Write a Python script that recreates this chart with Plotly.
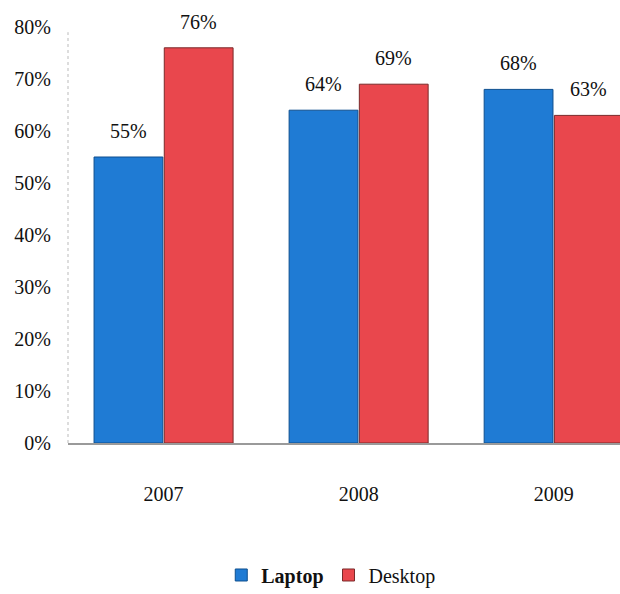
import plotly.graph_objects as go

years = ["2007", "2008", "2009"]
laptop = [55, 64, 68]
desktop = [76, 69, 63]
y_ticks = [0, 10, 20, 30, 40, 50, 60, 70, 80]
y_tick_labels = [f"{v}%" for v in y_ticks]

FONT = "Liberation Serif"
BLUE = "#1F7BD4"
RED = "#E9474D"

fig = go.Figure()
fig.add_trace(go.Bar(x=years, y=laptop, name="<b>Laptop</b>",
                     marker=dict(color=BLUE, line=dict(color="#0E4F8F", width=1))))
fig.add_trace(go.Bar(x=years, y=desktop, name="Desktop",
                     marker=dict(color=RED, line=dict(color="#7A2A2A", width=1))))

annotations = []
for i, yr in enumerate(years):
    for val, off in ((laptop[i], -0.18), (desktop[i], 0.18)):
        annotations.append(dict(x=i + off, y=val, xref="x", yref="y",
                                text=f"{val}%", showarrow=False, yanchor="bottom",
                                yshift=13, font=dict(family=FONT, size=20, color="#111")))

fig.update_layout(
    width=620, height=594,
    margin=dict(l=68, r=0, t=27, b=151),
    paper_bgcolor="white", plot_bgcolor="white",
    barmode="group", bargap=0.28, bargroupgap=0.02,
    font=dict(family=FONT, size=20, color="#111"),
    xaxis=dict(type="category", range=[-0.49, 2.34], showgrid=False,
               showline=True, linecolor="#9a9a9a", linewidth=2,
               ticks="", tickfont=dict(family=FONT, size=20), ticklabelstandoff=32),
    yaxis=dict(range=[0, 80], tickvals=y_ticks, ticktext=y_tick_labels,
               showgrid=False, zeroline=False, showline=False,
               tickfont=dict(family=FONT, size=20), ticklabelstandoff=16),
    legend=dict(orientation="h", x=0.476, xanchor="center", y=0.032, yanchor="middle",
                yref="container", font=dict(family=FONT, size=20), itemwidth=30,
                traceorder="normal"),
    annotations=annotations,
    shapes=[dict(type="line", xref="paper", yref="y", x0=0, x1=0, y0=0, y1=79,
                 line=dict(color="#bbbbbb", width=1, dash="dot"))],
)

fig.write_html("out.html")
